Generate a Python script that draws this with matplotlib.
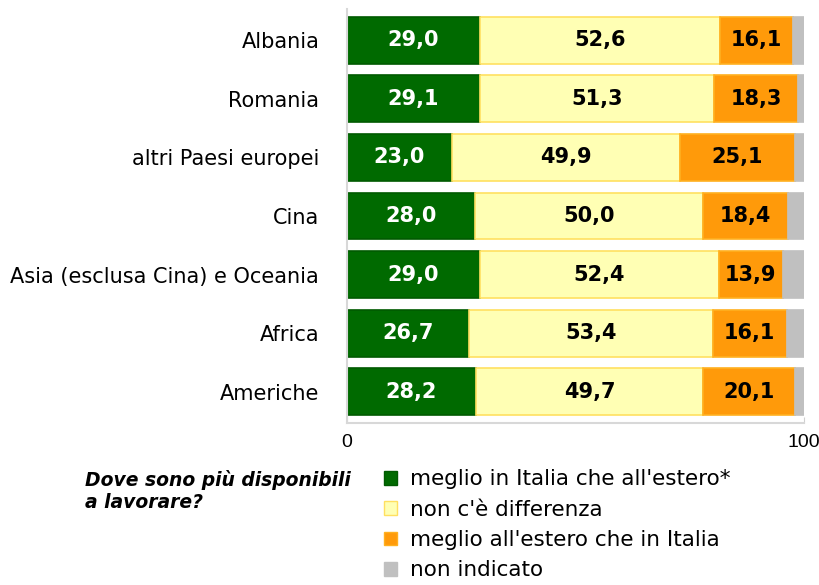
import matplotlib.pyplot as plt
import numpy as np
from matplotlib.patches import Patch

countries = ['Albania', 'Romania', 'altri Paesi europei', 'Cina',
             'Asia (esclusa Cina) e Oceania', 'Africa', 'Americhe']
italia = [29.0, 29.1, 23.0, 28.0, 29.0, 26.7, 28.2]
nessuna = [52.6, 51.3, 49.9, 50.0, 52.4, 53.4, 49.7]
estero = [16.1, 18.3, 25.1, 18.4, 13.9, 16.1, 20.1]
non_ind = [100 - a - b - c for a, b, c in zip(italia, nessuna, estero)]

series_names = ["meglio in Italia che all'estero*", "non c'è differenza",
                "meglio all'estero che in Italia", "non indicato"]
colors = ['#006A00', '#FFFFB4', '#FF9A0A', '#C0C0C0']
edges = ['#005A00', '#FFE060', '#FFB020', '#C0C0C0']
txt_col = ['white', 'black', 'black', None]

fig = plt.figure(figsize=(8.2, 5.85), dpi=100)
ax = fig.add_axes([347/820, 1 - 423/585, (804-347)/820, (423-9)/585])

y = np.arange(len(countries))
left = np.zeros(len(countries))
for vals, col, ec, tc, name in zip([italia, nessuna, estero, non_ind], colors, edges, txt_col, series_names):
    vals = np.array(vals)
    ax.barh(y, vals, left=left, height=0.8, color=col, edgecolor=ec, linewidth=1.2, label=name)
    if tc is not None:
        for yi, l, v in zip(y, left, vals):
            ax.text(l + v/2, yi, f'{v:.1f}'.replace('.', ','), ha='center', va='center',
                    color=tc, fontsize=15, fontweight='bold')
    left += vals

ax.set_ylim(6.53, -0.53)
ax.set_xlim(0, 100)
ax.set_yticks(y)
ax.set_yticklabels(countries, fontsize=15)
ax.set_xticks([0, 100])
ax.set_xticklabels(['0', '100'], fontsize=14, family='Liberation Sans')
ax.tick_params(axis='y', length=0, pad=20)
ax.tick_params(axis='x', direction='in', length=4, color='#D0D0D0', pad=8)
for s in ['top', 'right']:
    ax.spines[s].set_visible(False)
ax.spines['left'].set_color('#D8D8D8')
ax.spines['bottom'].set_color('#D8D8D8')
ax.spines['left'].set_linewidth(1.5)
ax.spines['bottom'].set_linewidth(1.5)

fig.text(85/820, 1 - 470/585, 'Dove sono più disponibili\na lavorare?', fontsize=13.5,
         fontweight='bold', fontstyle='italic', va='top', linespacing=1.2)

handles = [Patch(facecolor=c, edgecolor=e, label=n) for c, e, n in zip(colors, edges, series_names)]
fig.legend(handles=handles, loc='upper left', bbox_to_anchor=(378/820, 1 - 463/585),
           frameon=False, fontsize=15.5, handlelength=0.6, handleheight=0.6,
           handletextpad=0.6, labelspacing=0.48, borderaxespad=0, borderpad=0.3)

plt.savefig('out.png', dpi=100)
